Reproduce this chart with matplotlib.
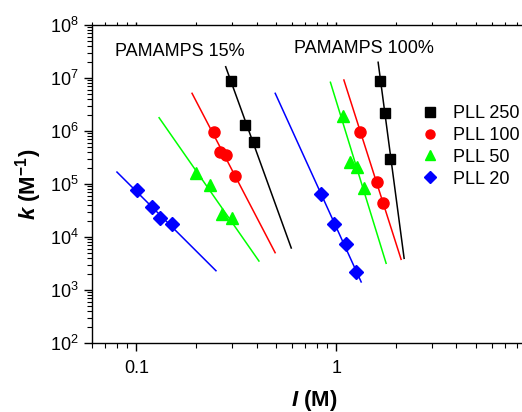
import numpy as np
import matplotlib
matplotlib.use("Agg")
import matplotlib.pyplot as plt
from matplotlib.lines import Line2D

plt.rcParams['font.family'] = ['Liberation Sans', 'DejaVu Sans']
plt.rcParams['mathtext.fontset'] = 'custom'
plt.rcParams['mathtext.rm'] = 'Liberation Sans'
plt.rcParams['mathtext.it'] = 'Liberation Sans:italic'
plt.rcParams['mathtext.bf'] = 'Liberation Sans:bold:italic'
plt.rcParams['mathtext.sf'] = 'Liberation Sans:bold'

# PAMAMPS 15%
x15_250 = [0.297, 0.348, 0.388]
k15_250 = [8.8e6, 1.3e6, 6.2e5]
x15_100 = [0.2434, 0.261, 0.281, 0.3135]
k15_100 = [9.45e5, 3.96e5, 3.52e5, 1.42e5]
x15_50 = [0.1995, 0.234, 0.2677, 0.2996]
k15_50 = [1.61e5, 9.7e4, 2.66e4, 2.28e4]
x15_20 = [0.1003, 0.1202, 0.1308, 0.1509]
k15_20 = [7.7e4, 3.63e4, 2.25e4, 1.76e4]

# PAMAMPS 100%
x100_250 = [1.66, 1.764, 1.862]
k100_250 = [8.67e6, 2.16e6, 3.0e5]
x100_100 = [1.318, 1.603, 1.708]
k100_100 = [9.57e5, 1.09e5, 4.33e4]
x100_50 = [1.084, 1.175, 1.27, 1.385]
k100_50 = [1.92e6, 2.64e5, 2.05e5, 8.3e4]
x100_20 = [0.841, 0.977, 1.119, 1.259]
k100_20 = [6.43e4, 1.74e4, 7.38e3, 2.17e3]

# fitted lines (end points)
fit15_250 = ([0.28, 0.596], [1.63e7, 6.2e3])
fit15_100 = ([0.19, 0.495], [5.14e6, 5.06e3])
fit15_50 = ([0.13, 0.4107], [1.78e6, 3.52e3])
fit15_20 = ([0.080, 0.2503], [1.68e5, 2.31e3])
fit100_250 = ([1.622, 2.188], [1.98e7, 3.96e3])
fit100_100 = ([1.093, 2.113], [9.16e6, 3.79e3])
fit100_50 = ([0.936, 1.778], [8.3e6, 3.19e3])
fit100_20 = ([0.4955, 1.334], [5.14e6, 1.42e3])

labels = ['PLL 250', 'PLL 100', 'PLL 50', 'PLL 20']
colors = ['black', '#ff0000', '#00ff00', '#0000ff']
markers = ['s', 'o', '^', 'D']
msizes = [7.5, 8, 8.5, 7.5]

fig = plt.figure(figsize=(5.22, 4.12), dpi=100)
ax = fig.add_axes([92/522, 1-343/412, (536-92)/522, (343-25)/412])

pts = [[(x15_250, k15_250), (x100_250, k100_250)],
       [(x15_100, k15_100), (x100_100, k100_100)],
       [(x15_50, k15_50), (x100_50, k100_50)],
       [(x15_20, k15_20), (x100_20, k100_20)]]
fits = [[fit15_250, fit100_250], [fit15_100, fit100_100],
        [fit15_50, fit100_50], [fit15_20, fit100_20]]

for i in range(4):
    for (fx, fy) in fits[i]:
        ax.plot(fx, fy, color=colors[i], lw=1.1, zorder=2)
    for (px, py) in pts[i]:
        ax.plot(px, py, ls='none', marker=markers[i], color=colors[i],
                ms=msizes[i], mec=colors[i], zorder=3)

ax.set_xscale('log')
ax.set_yscale('log')
ax.set_xlim(0.06, 10)
ax.set_ylim(1e2, 1e8)
ax.set_xticks([0.1, 1, 10], ['0.1', '1', ''])
ax.set_yticks([1e2, 1e3, 1e4, 1e5, 1e6, 1e7, 1e8],
              ['$10^{%d}$' % e for e in range(2, 9)])

ax.spines['right'].set_visible(False)
for s in ax.spines.values():
    s.set_linewidth(1.0)
ax.tick_params(axis='both', which='major', direction='out', length=6,
               width=1.0, labelsize=13)
ax.tick_params(axis='both', which='minor', direction='out', length=3.5,
               width=0.8)
ax.tick_params(axis='x', which='both', top=True, pad=6)
ax.xaxis.set_tick_params(which='both', labeltop=False)
for t in ax.xaxis.get_major_ticks() + ax.xaxis.get_minor_ticks():
    t.tick2line.set_markersize(2)

ax.text(0.0785, 3.1e7, 'PAMAMPS 15%', fontsize=13, va='center', ha='left')
ax.text(0.617, 3.68e7, 'PAMAMPS 100%', fontsize=13, va='center', ha='left')

handles = [Line2D([], [], ls='none', marker=markers[i], color=colors[i],
                  ms=6.5) for i in range(4)]
fig.legend(handles, labels, loc='upper left', frameon=False, fontsize=13,
           handlelength=1.0, handletextpad=0.75, labelspacing=0.27,
           borderpad=0, borderaxespad=0,
           bbox_to_anchor=(421/522, 1-105/412))

ax.set_xlabel(r'$\mathbf{I}$ (M)', fontsize=16, fontweight='bold', labelpad=8)
ax.set_ylabel(r'$\mathbf{k}$ (M$^{\mathsf{-1}}$)', fontsize=16,
              fontweight='bold', labelpad=4)

fig.savefig('out.png', dpi=100)
